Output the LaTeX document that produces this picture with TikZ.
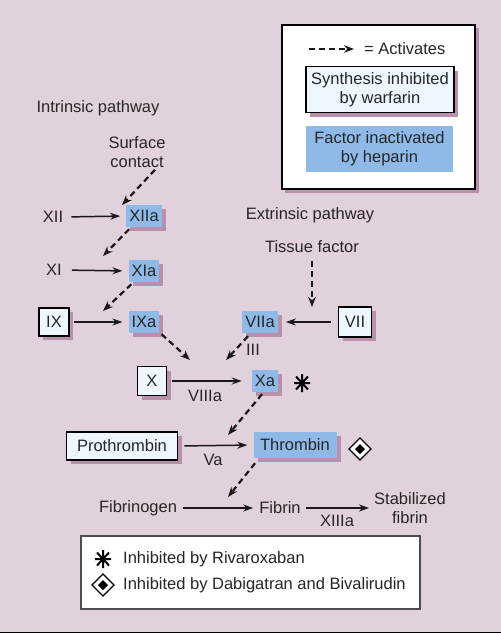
\documentclass[tikz,border=0pt]{standalone}
\usepackage{fontspec}
\setmainfont{Liberation Sans}
\usetikzlibrary{arrows.meta,shadows}
\definecolor{bgc}{RGB}{225,209,221}
\definecolor{bluec}{RGB}{143,186,232}
\definecolor{shadc}{RGB}{184,144,172}
\definecolor{whitec}{RGB}{238,246,255}
\definecolor{edgec}{RGB}{80,75,80}
\begin{document}
\begin{tikzpicture}[x=1pt,y=-1pt,
  every node/.style={font=\fontsize{16.5}{19}\selectfont, text=black!85},
  lbl/.style={inner sep=0pt},
  bluebox/.style={fill=bluec, inner xsep=3pt, inner ysep=2pt, minimum height=22pt,
    drop shadow={shadow xshift=4pt, shadow yshift=-4pt, fill=shadc, opacity=1}},
  whitebox/.style={fill=whitec, draw=black, line width=1.8pt, inner xsep=4pt, inner ysep=4pt, minimum height=26pt,
    drop shadow={shadow xshift=4pt, shadow yshift=-4pt, fill=shadc, opacity=1}},
  solidarr/.style={-{Stealth[length=10pt,width=7pt]}, line width=1.5pt, black!90},
  dasharr/.style={-{Stealth[length=10pt,width=7.5pt]}, line width=2.2pt, dash pattern=on 6pt off 4pt, black!90},
]
\useasboundingbox (0,0) rectangle (501,633);
\fill[bgc] (0,0) rectangle (501,633);
\draw[black, line width=1pt] (0,632) -- (501,632);

% top-right legend
\fill[shadc] (285,28) rectangle (479,193);
\draw[fill=white, line width=1.6pt] (282,25) rectangle (475,189);
\coordinate (la1) at (309,49);
\coordinate (la2) at (354,49);
\draw[dasharr] (la1) -- (la2);
\node[lbl, anchor=west] (act) at (364,49) {= Activates};
\node[whitebox, align=center, minimum width=148pt, minimum height=46pt, inner ysep=2pt] (lw) at (380,89.5) {Synthesis inhibited\\by warfarin};
\node[fill=bluec, align=center, minimum width=147pt, minimum height=46pt, inner ysep=2pt] (lb) at (379.5,149) {Factor inactivated\\by heparin};

% intrinsic
\node[lbl] (intr) at (98,108) {Intrinsic pathway};
\node[lbl, align=center] (surf) at (137,152) {Surface\\contact};
\node[lbl] (xii) at (53,217) {XII};
\node[bluebox] (xiia) at (144,216) {XIIa};
\node[lbl] (xi) at (54,270) {XI};
\node[bluebox] (xia) at (144,271) {XIa};
\node[whitebox, minimum width=30pt, minimum height=28pt, inner sep=1pt] (ix) at (54,322) {IX};
\node[bluebox] (ixa) at (144,322) {IXa};
\node[whitebox, minimum width=29pt, minimum height=29pt, inner sep=1pt] (x) at (152,381) {X};
\node[bluebox] (xa) at (265,381) {Xa};

\draw[solidarr, shorten <=8pt, shorten >=6pt] (xii.east) -- (xiia.west);
\draw[solidarr, shorten <=10pt, shorten >=6pt] (xi.east) -- (xia.west);
\draw[solidarr, shorten <=4pt, shorten >=6pt] (ix.east) -- (ixa.west);
\draw[solidarr, shorten <=5pt, shorten >=10pt] (x.east) -- (xa.west);
\node[lbl] (viiia) at (205,396) {VIIIa};

\coordinate (t1) at (122,205);
\coordinate (t2) at (103,256);
\coordinate (t3) at (103,311);
\coordinate (t4) at (190,360);
\draw[dasharr] ([xshift=18pt,yshift=-2pt]surf.south) -- (t1);
\draw[dasharr] ([xshift=3pt,yshift=-2pt]xiia.south west) -- (t2);
\draw[dasharr] ([xshift=3pt,yshift=-2pt]xia.south west) -- (t3);
\draw[dasharr] ([xshift=2pt,yshift=-1pt]ixa.south east) -- (t4);

% extrinsic
\node[lbl] (extr) at (310,215) {Extrinsic pathway};
\node[lbl] (tf) at (312,247) {Tissue factor};
\node[bluebox] (viia) at (260,322) {VIIa};
\node[whitebox, minimum width=33pt, minimum height=30pt, inner sep=1pt] (vii) at (355,322) {VII};
\draw[solidarr, shorten <=7pt, shorten >=8pt] (vii.west) -- (viia.east);
\coordinate (t6) at (312,307);
\draw[dasharr] ([yshift=-8pt]tf.south) -- (t6);
\coordinate (t5) at (226,360);
\draw[dasharr] ([xshift=-12pt,yshift=-3pt]viia.south) -- (t5);
\node[lbl] (iii) at (253,350) {III};

% common pathway
\node[whitebox, minimum width=111pt, minimum height=28pt] (pro) at (122,446) {Prothrombin};
\node[bluebox, minimum width=83pt, minimum height=26pt] (thr) at (295,445) {Thrombin};
\draw[solidarr, shorten <=6pt, shorten >=6pt] (pro.east) -- (thr.west);
\node[lbl] (va) at (213,460) {Va};
\coordinate (t7) at (228,435);
\draw[dasharr] ([xshift=-3pt,yshift=-2pt]xa.south) -- (t7);

\node[lbl] (fgn) at (138,508) {Fibrinogen};
\node[lbl] (fib) at (280,508) {Fibrin};
\node[lbl, align=center] (sfib) at (410,508) {Stabilized\\fibrin};
\draw[solidarr, shorten <=6pt, shorten >=6pt] (fgn.east) -- (fib.west);
\draw[solidarr, shorten <=5pt, shorten >=5pt] (fib.east) -- (sfib.west |- fib.east);
\node[lbl] (xiiia) at (337,521) {XIIIa};
\coordinate (t8) at (228,497);
\draw[dasharr] ([xshift=-40pt,yshift=-5pt]thr.south) -- (t8);

% bottom legend
\draw[fill=white, draw=edgec, line width=1.2pt] (81,536) rectangle (420,609);
\node[lbl, anchor=west] (l1) at (123,559) {Inhibited by Rivaroxaban};
\node[lbl, anchor=west] (l2) at (123,585) {Inhibited by Dabigatran and Bivalirudin};

% symbols
\foreach \cx/\cy in {302/383, 103/559} {
  \draw[line width=2pt] (\cx-8,\cy) -- (\cx+8,\cy) (\cx,\cy-9) -- (\cx,\cy+9)
    (\cx-6,\cy-6.5) -- (\cx+6,\cy+6.5) (\cx-6,\cy+6.5) -- (\cx+6,\cy-6.5);
}
\foreach \cx/\cy in {360/449, 103/585} {
  \draw[line width=1.4pt, fill=white] (\cx-11,\cy) -- (\cx,\cy-11) -- (\cx+11,\cy) -- (\cx,\cy+11) -- cycle;
  \fill[black] (\cx-5,\cy) -- (\cx,\cy-5) -- (\cx+5,\cy) -- (\cx,\cy+5) -- cycle;
}
\end{tikzpicture}
\end{document}
